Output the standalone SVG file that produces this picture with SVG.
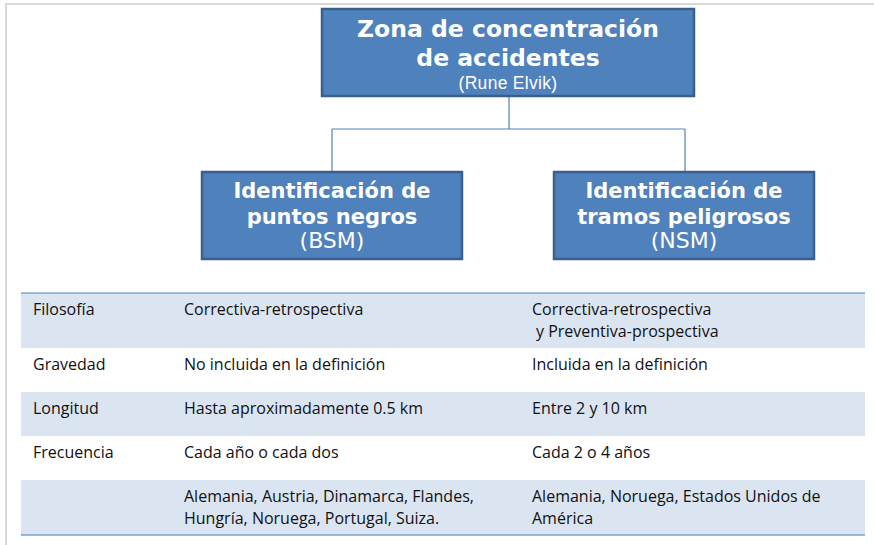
<svg xmlns="http://www.w3.org/2000/svg" width="874" height="545" viewBox="0 0 874 545">
<style>
.box{fill:#4F81BD;stroke:#3A5F8C;stroke-width:2.5}
.conn{fill:none;stroke:#4F81BD;stroke-width:1.2}
.t1{font-family:"DejaVu Sans",Verdana,sans-serif;font-weight:bold;fill:#fff;text-anchor:middle}
.t2{font-family:"DejaVu Sans",Verdana,sans-serif;fill:#fff;text-anchor:middle}
.t3{font-family:"Liberation Sans",Arial,sans-serif;fill:#fff;text-anchor:middle}
.cell{font-family:"Open Sans","Liberation Sans",sans-serif;font-size:16px;fill:#111}
.band{fill:#DBE5F1}
.rule{stroke:#4F81BD;stroke-width:1}
</style>
<rect width="874" height="545" fill="#fff"/>
<g id="frame">
<line x1="5" y1="4" x2="874" y2="4" stroke="#D9D9D9" stroke-width="2"/>
<line x1="6" y1="4" x2="6" y2="545" stroke="#D9D9D9" stroke-width="2"/>
</g>
<g id="connectors">
<path class="conn" d="M509 97 V129 M332 129 H685 M332 129 V172 M685 129 V172"/>
</g>
<g id="root">
<rect class="box" x="322" y="9" width="372" height="87"/>
<text class="t1" x="508" y="37" font-size="23.5">Zona de concentración</text>
<text class="t1" x="508" y="66" font-size="23.5">de accidentes</text>
<text class="t3" x="508" y="89" font-size="17.5" letter-spacing="0.3">(Rune Elvik)</text>
</g>
<g id="bsm">
<rect class="box" x="202" y="172" width="260" height="87"/>
<text class="t1" x="332" y="198" font-size="21">Identificación de</text>
<text class="t1" x="332" y="224" font-size="21">puntos negros</text>
<text class="t2" x="332" y="248" font-size="22">(BSM)</text>
</g>
<g id="nsm">
<rect class="box" x="554" y="172" width="260" height="87"/>
<text class="t1" x="684" y="198" font-size="21">Identificación de</text>
<text class="t1" x="684" y="224" font-size="21">tramos peligrosos</text>
<text class="t2" x="684" y="248" font-size="22">(NSM)</text>
</g>
<g id="table">
<rect class="band" x="21" y="293" width="844" height="55"/>
<rect class="band" x="21" y="392" width="844" height="44"/>
<rect class="band" x="21" y="480" width="844" height="55"/>
<line class="rule" x1="21" y1="293" x2="865" y2="293"/>
<line x1="21" y1="535" x2="865" y2="535" stroke="#7BA0CD" stroke-width="1.5"/>
<text class="cell" x="33" y="315">Filosofía</text>
<text class="cell" x="184" y="315">Correctiva-retrospectiva</text>
<text class="cell" x="532" y="315">Correctiva-retrospectiva</text>
<text class="cell" x="536" y="337">y Preventiva-prospectiva</text>
<text class="cell" x="33" y="370">Gravedad</text>
<text class="cell" x="184" y="370">No incluida en la definición</text>
<text class="cell" x="532" y="370">Incluida en la definición</text>
<text class="cell" x="33" y="414">Longitud</text>
<text class="cell" x="184" y="414">Hasta aproximadamente 0.5 km</text>
<text class="cell" x="532" y="414">Entre 2 y 10 km</text>
<text class="cell" x="33" y="458">Frecuencia</text>
<text class="cell" x="184" y="458">Cada año o cada dos</text>
<text class="cell" x="532" y="458">Cada 2 o 4 años</text>
<text class="cell" x="184" y="502">Alemania, Austria, Dinamarca, Flandes,</text>
<text class="cell" x="184" y="524">Hungría, Noruega, Portugal, Suiza.</text>
<text class="cell" x="532" y="502">Alemania, Noruega, Estados Unidos de</text>
<text class="cell" x="532" y="524">América</text>
</g>
</svg>
